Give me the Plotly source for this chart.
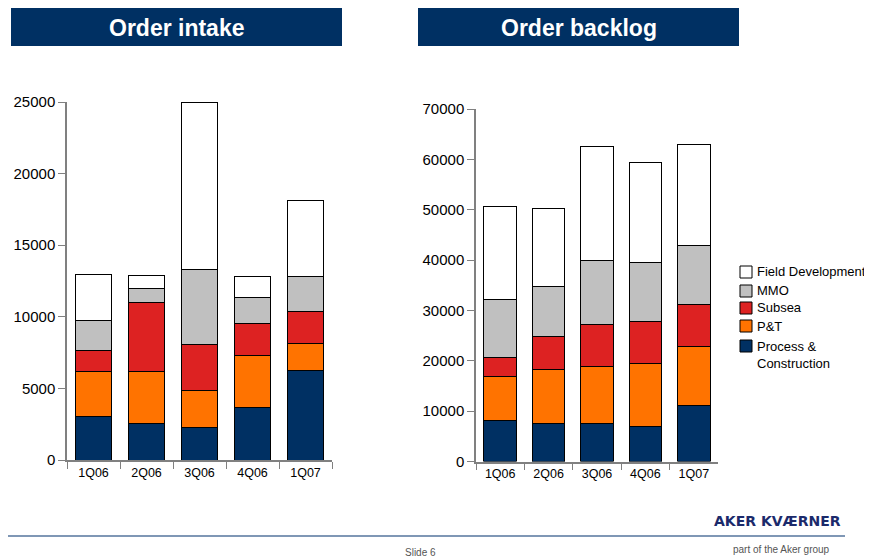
import plotly.graph_objects as go

quarters = ["1Q06", "2Q06", "3Q06", "4Q06", "1Q07"]
series_names = ["Process & Construction", "P&T", "Subsea", "MMO", "Field Development"]
legend_labels = ["Process &<br>Construction", "P&T", "Subsea", "MMO", "Field Development"]
colors = ["#003063", "#FF7300", "#DD2222", "#C0C0C0", "#FFFFFF"]

intake_pc = [3050, 2580, 2280, 3680, 6260]
intake_pt = [3110, 3580, 2580, 3630, 1880]
intake_subsea = [1490, 4840, 3210, 2230, 2260]
intake_mmo = [2120, 980, 5210, 1790, 2420]
intake_fd = [3210, 910, 11680, 1490, 5330]

backlog_pc = [8070, 7480, 7480, 7010, 11050]
backlog_pt = [8730, 10720, 11380, 12370, 11780]
backlog_subsea = [3840, 6620, 8340, 8470, 8340]
backlog_mmo = [11510, 9920, 12700, 11650, 11650]
backlog_fd = [18530, 15550, 22690, 19780, 20050]

intake = [intake_pc, intake_pt, intake_subsea, intake_mmo, intake_fd]
backlog = [backlog_pc, backlog_pt, backlog_subsea, backlog_mmo, backlog_fd]

W, H = 872, 558
OFF = 8  # page body margin offset of the figure in the browser
FONT = "Liberation Sans, Arial, sans-serif"
fig = go.Figure()

for name, col, vals in zip(series_names, colors, intake):
    fig.add_trace(go.Bar(x=quarters, y=vals, name=name, marker=dict(color=col, line=dict(color="black", width=1)),
                         xaxis="x", yaxis="y", showlegend=False))
for name, col, vals in zip(series_names, colors, backlog):
    fig.add_trace(go.Bar(x=quarters, y=vals, name=name, marker=dict(color=col, line=dict(color="black", width=1)),
                         xaxis="x2", yaxis="y2", showlegend=False))


def px_x(v):
    return (v - OFF) / W


def px_y(v):
    return 1 - (v - OFF) / H


axis_common = dict(showline=True, linecolor="#808080", linewidth=1.5, ticks="outside", tickcolor="#808080",
                   ticklen=7, tickwidth=1.2, showgrid=False, zeroline=False, automargin=False)
xfont = dict(family=FONT, size=12.5, color="black")
yfont = dict(family=FONT, size=15, color="black")

fig.update_layout(
    width=W, height=H,
    margin=dict(l=0, r=0, t=0, b=0, autoexpand=False),
    paper_bgcolor="white", plot_bgcolor="rgba(0,0,0,0)",
    barmode="stack", bargap=0.33,
    xaxis=dict(domain=[px_x(67), px_x(332)], anchor="y", tickson="boundaries", tickfont=xfont, **axis_common),
    yaxis=dict(domain=[px_y(460), px_y(102)], anchor="x", range=[0, 25000], dtick=5000, tickformat="d",
               tickfont=yfont, **axis_common),
    xaxis2=dict(domain=[px_x(476), px_x(718)], anchor="y2", tickson="boundaries", tickfont=xfont, **axis_common),
    yaxis2=dict(domain=[px_y(461.5), px_y(109)], anchor="x2", range=[0, 70000], dtick=10000, tickformat="d",
                tickfont=yfont, **axis_common),
    showlegend=False,
)

# title boxes
for x0, x1, txt in [(11, 342, "Order intake"), (418, 739, "Order backlog")]:
    fig.add_shape(type="rect", xref="paper", yref="paper", x0=px_x(x0), x1=px_x(x1), y0=px_y(46), y1=px_y(8),
                  fillcolor="#003063", line=dict(width=0), layer="below")
    fig.add_annotation(xref="paper", yref="paper", x=px_x((x0 + x1) / 2), y=px_y(28), xanchor="center",
                       yanchor="middle", text=f"<b>{txt}</b>", showarrow=False,
                       font=dict(family=FONT, size=23, color="white"))

# legend (drawn manually to match placement)
legend_rows = [  # (label index, square top y, text centre y)
    (4, 266, 271),
    (3, 285, 290),
    (2, 302, 307),
    (1, 320, 326),
    (0, 340, 355),
]
for idx, ytop, ytxt in legend_rows:
    fig.add_shape(type="rect", xref="paper", yref="paper", x0=px_x(740), x1=px_x(752),
                  y0=px_y(ytop + 12), y1=px_y(ytop), fillcolor=colors[idx], line=dict(color="black", width=1))
    fig.add_annotation(xref="paper", yref="paper", x=px_x(755), y=px_y(ytxt), xanchor="left", yanchor="middle",
                       align="left", text=legend_labels[idx], showarrow=False,
                       font=dict(family=FONT, size=13, color="black"))

# footer
fig.add_shape(type="line", xref="paper", yref="paper", x0=px_x(0), x1=px_x(845), y0=px_y(536), y1=px_y(536),
              line=dict(color="#7F97B5", width=2))
fig.add_annotation(xref="paper", yref="paper", x=px_x(420), y=px_y(552), xanchor="center", yanchor="middle",
                   text="Slide 6", showarrow=False, font=dict(family=FONT, size=10, color="#555555"))
fig.add_annotation(xref="paper", yref="paper", x=px_x(843), y=px_y(521), xanchor="right", yanchor="middle",
                   text="<b>AKER KVÆRNER</b>", showarrow=False,
                   font=dict(family="DejaVu Sans, sans-serif", size=14, color="#1B2A6B"))
fig.add_annotation(xref="paper", yref="paper", x=px_x(832), y=px_y(549), xanchor="right", yanchor="middle",
                   text="part of the Aker group", showarrow=False,
                   font=dict(family=FONT, size=10, color="#555555"))

fig.write_html("out.html")
